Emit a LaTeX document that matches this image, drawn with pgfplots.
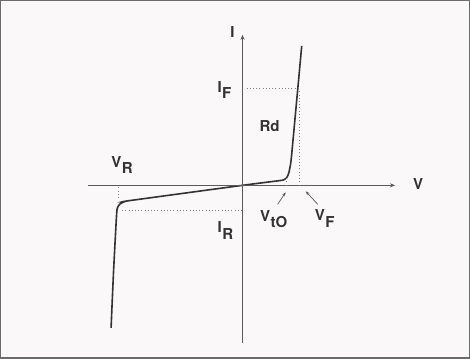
\documentclass[border=0pt]{standalone}
\usepackage{fontspec}
\setmainfont{TeX Gyre Heros}
\usepackage{pgfplots}
\pgfplotsset{compat=1.18}
\usetikzlibrary{arrows.meta}

\definecolor{ink}{HTML}{333333}
\definecolor{axisgray}{HTML}{5A5A5A}
\definecolor{paper}{HTML}{FAF8F8}
\newcommand\sub[1]{\kern0.5pt\raisebox{-0.42em}{#1}}

\begin{document}
\begin{tikzpicture}[lab/.style={font=\fontsize{15}{17}\selectfont\bfseries, text=ink}]
\begin{axis}[
    scale only axis,
    width=467pt, height=356pt,
    xmin=-241, xmax=226,
    ymin=-172, ymax=184,
    axis line style={draw=gray!85!black, line width=1.4pt},
    axis background/.style={fill=paper},
    xtick=\empty, ytick=\empty,
    clip=false,
]

% diode characteristic
\addplot[ink, line width=1.6pt, smooth, tension=0.35] coordinates {
    (-131,-142) (-128.5,-85) (-125.5,-29) (-124.5,-22) (-122,-18.5)
    (-118,-16.5) (-113,-15.3) (0,0) (37,4.7) (41,5.5) (44,7.5)
    (46,12) (47.5,19) (49,31) (59,139)
};

% axes
\draw[axisgray, line width=0.8pt, -{Stealth[length=5pt,width=4pt]}] (axis cs:-154,0) -- (axis cs:152,0);
\draw[axisgray, line width=0.8pt, -{Stealth[length=5pt,width=4pt]}] (axis cs:0,-157) -- (axis cs:0,150);

% guide lines
\draw[gray, line width=0.8pt, dash pattern=on 0.8pt off 2.4pt] (axis cs:-124,-2) -- (axis cs:-124,-14);
\draw[gray, line width=0.8pt, dash pattern=on 0.8pt off 2.4pt] (axis cs:-120,-25) -- (axis cs:0,-25);
\draw[gray, line width=0.8pt, dash pattern=on 0.8pt off 2.4pt] (axis cs:44,0) -- (axis cs:44,9);
\draw[gray, line width=0.8pt, dash pattern=on 0.8pt off 2.4pt] (axis cs:57,0) -- (axis cs:57,95);
\draw[gray, line width=0.8pt, dash pattern=on 0.8pt off 2.4pt] (axis cs:4,97) -- (axis cs:54,97);

% pointers
\draw[axisgray, line width=0.7pt, -{Stealth[length=4pt,width=3pt]}] (axis cs:35,-19) -- (axis cs:43,-7);
\draw[axisgray, line width=0.7pt, -{Stealth[length=4pt,width=3pt]}] (axis cs:75,-19) -- (axis cs:63,-6);

% labels
\node[lab] at (axis cs:-10,153) {I};
\node[lab] at (axis cs:175,1) {V};
\node[lab] at (axis cs:-18,95) {I\sub{F}};
\node[lab] at (axis cs:27,59) {Rd};
\node[lab] at (axis cs:-120,20) {V\sub{R}};
\node[lab] at (axis cs:-17,-45) {I\sub{R}};
\node[lab] at (axis cs:31,-34) {V\sub{tO}};
\node[lab] at (axis cs:82,-33) {V\sub{F}};

\end{axis}
\end{tikzpicture}
\end{document}
